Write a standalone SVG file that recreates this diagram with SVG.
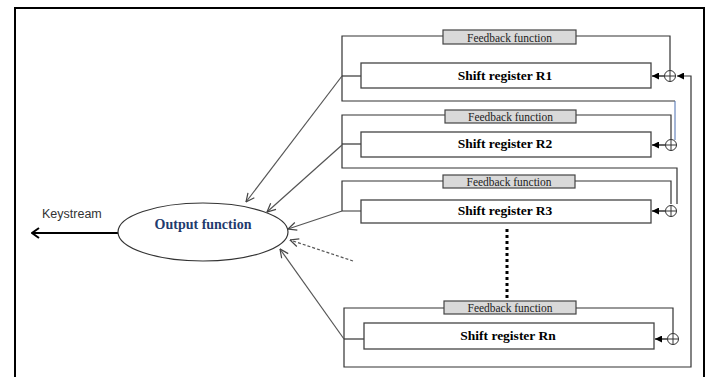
<svg xmlns="http://www.w3.org/2000/svg" width="707" height="377" viewBox="0 0 707 377">
<defs>
<marker id="open" viewBox="0 0 10 10" refX="9.5" refY="5" markerWidth="10" markerHeight="10" markerUnits="userSpaceOnUse" orient="auto">
<path d="M1,1 L9.5,5 L1,9" fill="none" stroke="#444" stroke-width="1.2"/>
</marker>
<marker id="ks" viewBox="0 0 10 12" refX="9" refY="6" markerWidth="10" markerHeight="12" markerUnits="userSpaceOnUse" orient="auto-start-reverse">
<path d="M2,1 L9,6 L2,11" fill="none" stroke="#000" stroke-width="2"/>
</marker>
<marker id="fill" viewBox="0 0 8 8" refX="8" refY="4" markerWidth="7" markerHeight="7" markerUnits="userSpaceOnUse" orient="auto">
<path d="M0,0 L8,4 L0,8 Z" fill="#000"/>
</marker>
</defs>
<style>
.frame{fill:none;stroke:#000;stroke-width:2}
.line{fill:none;stroke:#333;stroke-width:1.2}
.blue{fill:none;stroke:#4a6fb0;stroke-width:1}
.toout{fill:none;stroke:#555;stroke-width:1.2;marker-end:url(#open)}
.xarr{fill:none;stroke:#000;stroke-width:1.2;marker-end:url(#fill)}
.reg{fill:#fff;stroke:#444;stroke-width:1.3}
.fb{fill:#d9d9d9;stroke:#444;stroke-width:1.2}
.fbt{font-family:"Liberation Serif",serif;font-size:12px;fill:#222;text-anchor:middle}
.rt{font-family:"Liberation Serif",serif;font-size:13.5px;font-weight:bold;fill:#000;text-anchor:middle}
.xor{fill:#fff;stroke:#333;stroke-width:1}
</style>
<rect width="707" height="377" fill="#fff"/>
<rect class="frame" x="15" y="8" width="689" height="380"/>

<g id="connectors">
<path class="line" d="M443,36 H342 V101 H675"/>
<path class="line" d="M342,76 H361"/>
<path class="line" d="M576,36 H670 V70"/>
<path class="blue" d="M675,101 V140"/>
<path class="line" d="M445,115 H342 V168 H677 V204"/>
<path class="line" d="M342,144 H361"/>
<path class="line" d="M576,115 H671 V139"/>
<path class="line" d="M443,181 H342 V211 H361"/>
<path class="line" d="M575,181 H671 V204"/>
<path d="M507,229 V300" fill="none" stroke="#000" stroke-width="3" stroke-dasharray="3,3"/>
<path class="line" d="M444,308 H344 V367 H691 V76 H677" marker-end="url(#fill)"/>
<path class="line" d="M344,339 H364"/>
<path class="line" d="M576,308 H673 V333"/>
<path class="xarr" d="M664,76 H652"/>
<path class="xarr" d="M665,145 H652"/>
<path class="xarr" d="M665,211 H652"/>
<path class="xarr" d="M667,339 H655"/>
<path class="toout" d="M342,76 L246,202"/>
<path class="toout" d="M342,145 L267,212"/>
<path class="toout" d="M342,211 L288,229"/>
<path class="toout" d="M353,261 L290,240" stroke-dasharray="3,2"/>
<path class="toout" d="M344,339 L280,249"/>
<path d="M118,233 H32" fill="none" stroke="#000" stroke-width="2" marker-end="url(#ks)"/>
<text x="42" y="218" font-family="'Liberation Sans',Arial,sans-serif" font-size="12.5" fill="#333">Keystream</text>
</g>

<g id="output">
<ellipse cx="203" cy="232" rx="85" ry="29" fill="#fff" stroke="#333" stroke-width="1.2"/>
<text x="203" y="229" font-family="'Liberation Serif',serif" font-size="14" font-weight="bold" fill="#1f3b6e" text-anchor="middle">Output function</text>
</g>

<g id="fb1"><rect class="fb" x="443" y="30" width="133" height="14"/><text class="fbt" x="509.5" y="41.5" textLength="85" lengthAdjust="spacingAndGlyphs">Feedback function</text></g>
<g id="r1"><rect class="reg" x="361" y="63" width="290" height="25"/><text class="rt" x="505" y="80">Shift register R1</text></g>
<g id="x1"><circle class="xor" cx="670" cy="76" r="5.5"/><path d="M664.5,76 H675.5 M670,70.5 V81.5" stroke="#333" stroke-width="1"/></g>

<g id="fb2"><rect class="fb" x="445" y="110" width="131" height="13"/><text class="fbt" x="510.5" y="121" textLength="85" lengthAdjust="spacingAndGlyphs">Feedback function</text></g>
<g id="r2"><rect class="reg" x="361" y="132" width="290" height="25"/><text class="rt" x="505" y="148">Shift register R2</text></g>
<g id="x2"><circle class="xor" cx="671" cy="145" r="5.5"/><path d="M665.5,145 H676.5 M671,139.5 V150.5" stroke="#333" stroke-width="1"/></g>

<g id="fb3"><rect class="fb" x="443" y="175" width="132" height="13"/><text class="fbt" x="509" y="186" textLength="85" lengthAdjust="spacingAndGlyphs">Feedback function</text></g>
<g id="r3"><rect class="reg" x="361" y="200" width="290" height="23"/><text class="rt" x="505" y="215">Shift register R3</text></g>
<g id="x3"><circle class="xor" cx="671" cy="211" r="5.5"/><path d="M665.5,211 H676.5 M671,205.5 V216.5" stroke="#333" stroke-width="1"/></g>

<g id="fbn"><rect class="fb" x="444" y="301" width="132" height="13"/><text class="fbt" x="510" y="312" textLength="85" lengthAdjust="spacingAndGlyphs">Feedback function</text></g>
<g id="rn"><rect class="reg" x="364" y="323" width="290" height="26"/><text class="rt" x="508" y="340">Shift register Rn</text></g>
<g id="xn"><circle class="xor" cx="673" cy="339" r="5.5"/><path d="M667.5,339 H678.5 M673,333.5 V344.5" stroke="#333" stroke-width="1"/></g>
</svg>
